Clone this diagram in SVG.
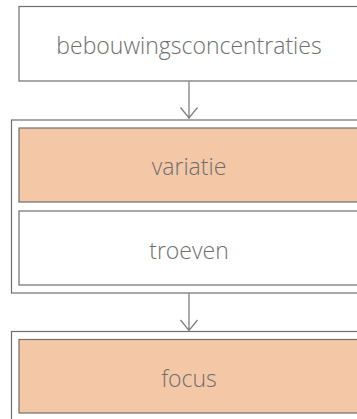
<svg xmlns="http://www.w3.org/2000/svg" width="357" height="419" viewBox="0 0 357 419">
<defs>
<style>
.box{fill:#ffffff;stroke:#6f6f6f;stroke-width:1.2}
.hl{fill:#f4c8a6;stroke:#6f6f6f;stroke-width:1.2}
.grp{fill:none;stroke:#6f6f6f;stroke-width:1.2}
.lbl{font-family:"Open Sans","Liberation Sans",sans-serif;font-weight:300;font-size:23px;fill:#6e6e6e;text-anchor:middle}
.con{fill:none;stroke:#808080;stroke-width:1.3}
</style>
</defs>
<rect width="357" height="419" fill="#ffffff"/>
<g id="group-1"><rect class="grp" x="11.5" y="120" width="356" height="173"/></g>
<g id="group-2"><rect class="grp" x="11.5" y="331.5" width="356" height="100"/></g>
<g id="node-bebouwingsconcentraties"><rect class="box" x="19" y="6.5" width="341" height="74.5"/><text class="lbl" x="189" y="54">bebouwingsconcentraties</text></g>
<g id="node-variatie"><rect class="hl" x="19" y="128" width="341" height="74"/><text class="lbl" x="189" y="175">variatie</text></g>
<g id="node-troeven"><rect class="box" x="19" y="211" width="341" height="74"/><text class="lbl" x="189" y="259">troeven</text></g>
<g id="node-focus"><rect class="hl" x="19" y="339.5" width="341" height="73.5"/><text class="lbl" x="189" y="387">focus</text></g>
<g id="connectors">
<path class="con" d="M189 81V119M180.5 107.5L189 118L197.5 107.5"/>
<path class="con" d="M189 293V330.5M180.5 320L189 330.5L197.5 320"/>
</g>
</svg>
